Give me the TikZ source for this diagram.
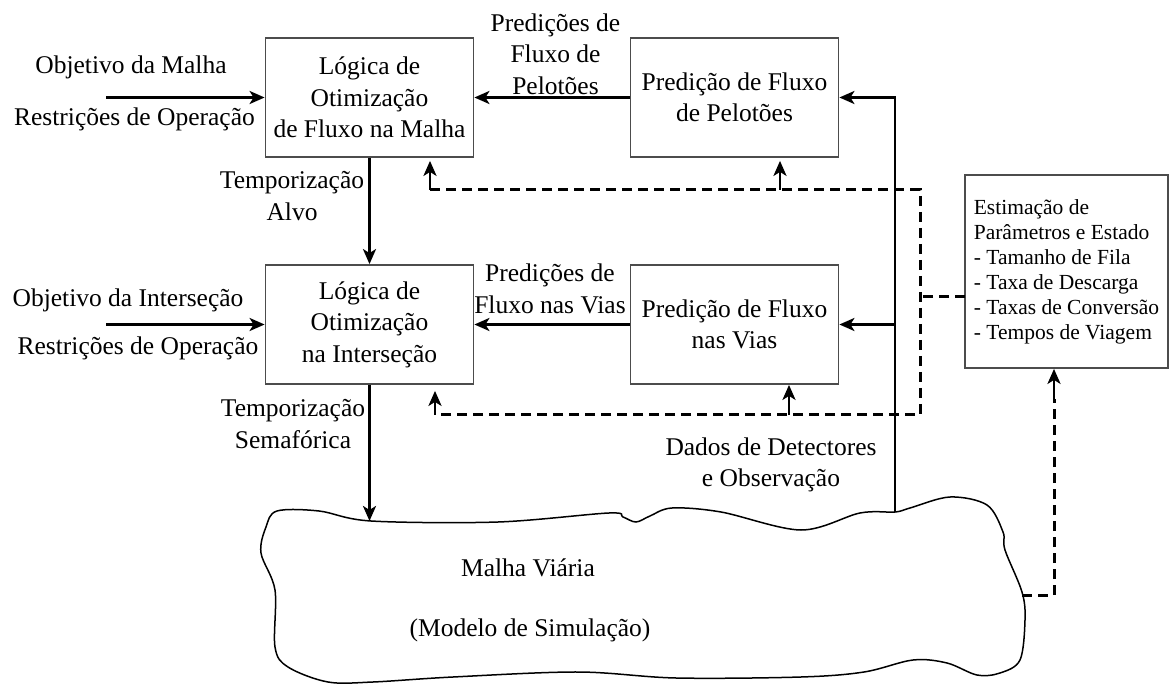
\documentclass[tikz,border=0pt]{standalone}
\usepackage{fontspec}
\setmainfont{Liberation Serif}
\usetikzlibrary{arrows.meta}
\newcommand{\fonte}{\fontsize{25.5}{31.5}\selectfont}
\newcommand{\fontep}{\fontsize{21.5}{25}\selectfont}
\begin{document}
\begin{tikzpicture}[x=1pt,y=-1pt,
	bloco/.style={draw=black!70,line width=1.8pt,minimum width=208pt,minimum height=119pt,align=center,font=\fonte,inner sep=2pt},
	rotulo/.style={align=center,font=\fonte,inner sep=0pt},
	seta/.style={line width=2.8pt,-{Stealth[length=15pt,width=13pt,inset=4pt]}},
	tracejado/.style={line width=3pt,dash pattern=on 10pt off 6pt}]
			\useasboundingbox (0,0) rectangle (1173,684);
			\node[bloco] (otmalha) at (369.5,97.5) {Lógica de\\Otimização\\de Fluxo na Malha};
			\node[bloco] (predpel) at (734.5,97.5) {Predição de Fluxo\\de Pelotões};
			\node[bloco] (otint) at (369.5,324.5) {Lógica de\\Otimização\\na Interseção};
			\node[bloco] (predvias) at (734.5,324.5) {Predição de Fluxo\\nas Vias};
			\node[bloco,minimum width=203pt,minimum height=193pt,align=left,font=\fontep] (estim) at (1066.5,271.5) {Estimação de\\Parâmetros e Estado\\- Tamanho de Fila\\- Taxa de Descarga\\- Taxas de Conversão\\- Tempos de Viagem};
			\node[rotulo] (objmalha) at (131,67) {Objetivo da Malha};
			\node[rotulo] (restmalha) at (134.5,119) {Restrições de Operação};
			\node[rotulo] (objint) at (128,300) {Objetivo da Interseção};
			\node[rotulo] (restint) at (138,348) {Restrições de Operação};
			\node[rotulo] (tempalvo) at (292,196) {Temporização\\Alvo};
			\node[rotulo] (tempsem) at (293,424) {Temporização\\Semafórica};
			\node[rotulo] (predpelrot) at (555.5,54) {Predições de\\Fluxo de\\Pelotões};
			\node[rotulo] (predviasrot) at (550,289) {Predições de\\Fluxo nas Vias};
			\node[rotulo] (dados) at (771,465) {Dados de Detectores\\e Observação};
			\draw[line width=1.5pt] plot[smooth cycle,tension=0.55] coordinates {(277,511) (319,511) (371,521) (498,522) (609,513) (623,517) (636,522) (650,516) (672,508) (721,512) (801,530) (860,513) (895,512) (910,508) (950,497) (987,505) (1003,532) (1005,550) (1022,592) (1025,620) (1020,660) (1000,673) (977,675) (947,663) (913,660) (864,672) (801,677) (676,678) (578,672) (453,677) (373,682) (328,682) (288,667) (275,647) (275,590) (261,553) (266,527)};
			\node[rotulo] (malha) at (528,568) {Malha Viária};
			\node[rotulo] (modelo) at (530,630) {(Modelo de Simulação)};
			\coordinate (entmalha) at (106,97.5);
			\coordinate (entint) at (106,324.5);
			\coordinate (topo) at (369.5,521);
			\coordinate (detect) at (895,512);
			\coordinate (nuvemdir) at (1022,595);
			\coordinate (cantosup) at (920,190);
			\coordinate (cantoinf) at (920,415);
			\coordinate (saiest) at (965,297);
			\coordinate (dobraA) at (430,190);
			\coordinate (dobraP1) at (780,190);
			\coordinate (dobraB) at (435,415);
			\coordinate (dobraP2) at (789,415);
			\coordinate (dobraE) at (1054,595);
			\draw[seta] (entmalha) -- (otmalha);
			\draw[seta] (entint) -- (otint);
			\draw[seta] (predpel) -- (otmalha);
			\draw[seta] (predvias) -- (otint);
			\draw[seta] (otmalha) -- (otint);
			\draw[seta] (otint) -- (topo);
			\draw[seta] (detect) |- (predpel.east);
			\draw[seta] (detect |- predvias.east) -- (predvias.east);
			\draw[tracejado] (saiest) -- (saiest -| cantosup);
			\draw[tracejado] (dobraA) -- (cantosup) -- (cantoinf) -- (dobraB);
			\draw[tracejado] (nuvemdir) -- (dobraE) -- ([yshift=-30pt]estim.south -| dobraE);
			\draw[seta] (dobraA) -- ([yshift=-3pt]dobraA |- otmalha.south);
			\draw[seta] (dobraP1) -- ([yshift=-3pt]dobraP1 |- predpel.south);
			\draw[seta] (dobraB) -- ([yshift=-6pt]dobraB |- otint.south);
			\draw[seta] (dobraP2) -- (dobraP2 |- predvias.south);
			\draw[seta] ([yshift=-30pt]estim.south -| dobraE) -- (estim.south -| dobraE);
\end{tikzpicture}
\end{document}
